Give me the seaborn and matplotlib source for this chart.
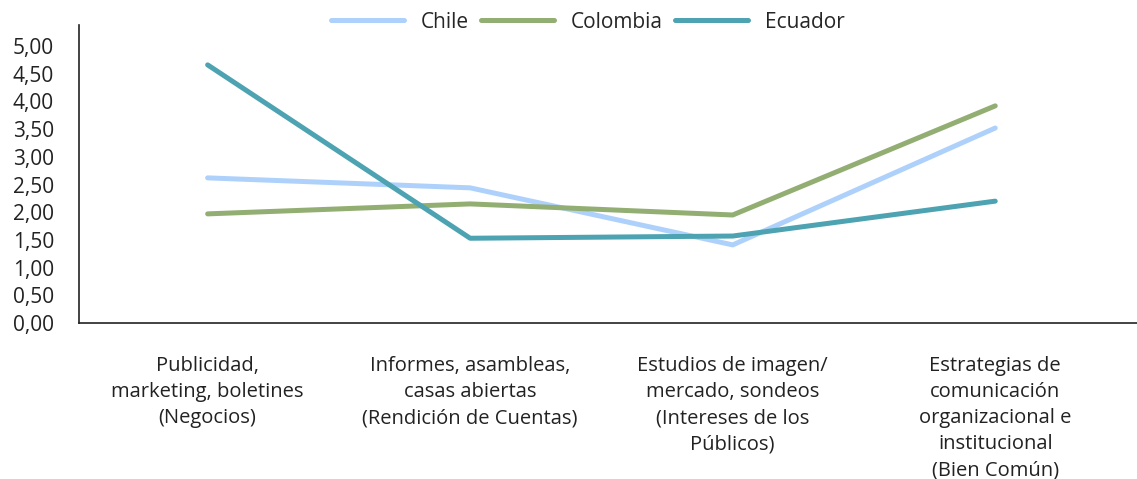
import pandas as pd
import matplotlib
import matplotlib.pyplot as plt
import seaborn as sns

matplotlib.use("Agg")

categories = [
    "Publicidad,\nmarketing, boletines\n(Negocios)",
    "Informes, asambleas,\ncasas abiertas\n(Rendición de Cuentas)",
    "Estudios de imagen/\nmercado, sondeos\n(Intereses de los\nPúblicos)",
    "Estrategias de\ncomunicación\norganizacional e\ninstitucional\n(Bien Común)",
]
chile = [2.62, 2.44, 1.41, 3.52]
colombia = [1.97, 2.15, 1.95, 3.92]
ecuador = [4.66, 1.53, 1.57, 2.20]
countries = ["Chile", "Colombia", "Ecuador"]
colors = ["#AED1FB", "#93AE72", "#4DA3B1"]
yticks = [0, 0.5, 1, 1.5, 2, 2.5, 3, 3.5, 4, 4.5, 5]
ytick_labels = ["0,00", "0,50", "1,00", "1,50", "2,00", "2,50",
                "3,00", "3,50", "4,00", "4,50", "5,00"]

rows = []
for name, vals in zip(countries, [chile, colombia, ecuador]):
    for i, v in enumerate(vals):
        rows.append({"pos": i, "valor": v, "pais": name})
df = pd.DataFrame(rows)

sns.set_style("white")
plt.rcParams["font.family"] = ["Open Sans", "DejaVu Sans"]

fig = plt.figure(figsize=(11.37, 4.79), dpi=100)
ax = fig.add_axes([79 / 1137, 156 / 479, 1 - 79 / 1137, 298 / 479])

sns.lineplot(data=df, x="pos", y="valor", hue="pais", palette=colors,
             linewidth=3.6, ax=ax, solid_capstyle="round")

ax.set_xlim(-0.49, 3.54)
ax.set_ylim(0, 5.38)
ax.set_yticks(yticks)
ax.set_yticklabels(ytick_labels, fontsize=15, color="#222222")
ax.set_xticks(range(len(categories)))
ax.set_xticklabels(categories, fontsize=14.5, color="#222222", linespacing=1.4)
ax.tick_params(axis="x", length=0, pad=24)
ax.tick_params(axis="y", length=0, pad=18)
ax.set_xlabel("")
ax.set_ylabel("")

for side in ["top", "right"]:
    ax.spines[side].set_visible(False)
for side in ["left", "bottom"]:
    ax.spines[side].set_color("#222222")
    ax.spines[side].set_linewidth(1.2)

ax.legend(loc="center", bbox_to_anchor=(0.481, 1.01), ncol=3, frameon=False,
          fontsize=15, handlelength=3.5, columnspacing=0.6, handletextpad=0.8)

plt.savefig("out.png", dpi=100)
plt.close()
